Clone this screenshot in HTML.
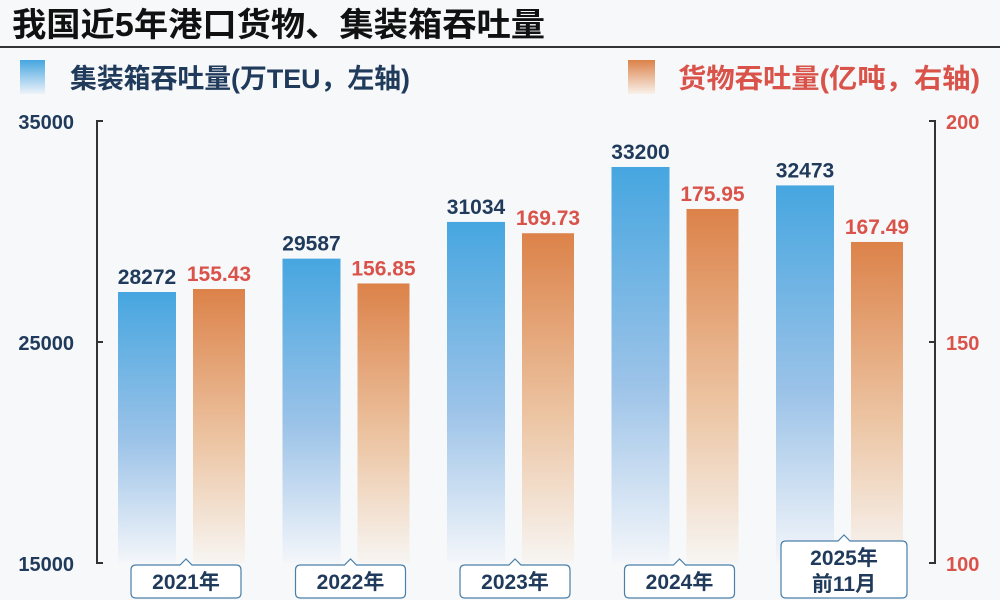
<!DOCTYPE html>
<html><head><meta charset="utf-8"><style>
body{margin:0;background:#f7f8fa;}
svg{display:block;font-family:"Liberation Sans","Noto Sans CJK SC",sans-serif;}
</style></head><body>
<svg id="chart" width="1000" height="600" viewBox="0 0 1000 600" xmlns="http://www.w3.org/2000/svg">
<defs>
<linearGradient id="gb" x1="0" y1="0" x2="0" y2="1"><stop offset="0" stop-color="#46a6e0"/><stop offset="0.55" stop-color="#9cc3e8"/><stop offset="1" stop-color="#f4f6fa"/></linearGradient>
<linearGradient id="go" x1="0" y1="0" x2="0" y2="1"><stop offset="0" stop-color="#dc8249"/><stop offset="0.55" stop-color="#ecc4a2"/><stop offset="1" stop-color="#f7f5f2"/></linearGradient>
<linearGradient id="lb" x1="0" y1="0" x2="0" y2="1"><stop offset="0" stop-color="#46a6e0"/><stop offset="1" stop-color="#eef3fa"/></linearGradient>
<linearGradient id="lo" x1="0" y1="0" x2="0" y2="1"><stop offset="0" stop-color="#dc8249"/><stop offset="1" stop-color="#f8f1ea"/></linearGradient>
</defs>
<text x="12" y="36" font-size="33" font-weight="bold" fill="#111" textLength="533" lengthAdjust="spacingAndGlyphs">我国近5年港口货物、集装箱吞吐量</text>
<line x1="0" y1="47" x2="1000" y2="47" stroke="#333" stroke-width="2"/>
<rect x="20" y="60" width="25" height="34" fill="url(#lb)"/>
<text x="70" y="88" font-size="27" font-weight="bold" fill="#1f3a5a" textLength="340" lengthAdjust="spacingAndGlyphs">集装箱吞吐量(万TEU，左轴)</text>
<rect x="628" y="60" width="27" height="34" fill="url(#lo)"/>
<text x="678" y="88" font-size="27" font-weight="bold" fill="#d9534a" textLength="302" lengthAdjust="spacingAndGlyphs">货物吞吐量(亿吨，右轴)</text>
<g id="axes"></g>
<g id="bars"></g>
</svg>
<script>
const categories=["2021年","2022年","2023年","2024年","2025年\n前11月"];
const containerValues=[28272,29587,31034,33200,32473];
const cargoValues=[155.43,156.85,169.73,175.95,167.49];
const leftTicks=[15000,25000,35000];
const rightTicks=[100,150,200];
const NS="http://www.w3.org/2000/svg";
function mk(t,a,p){const e=document.createElementNS(NS,t);for(const k in a)e.setAttribute(k,a[k]);p.appendChild(e);return e;}
const axTop=121,axBot=563;
function yLeftAxis(v){return axBot-(v-15000)/20000*(axBot-axTop);}
function yRightAxis(v){return axBot-(v-100)/100*(axBot-axTop);}
function yLeftBar(v){return 292-(v-28272)*0.02537;}
function yRightBar(v){return 289-(v-155.43)*3.9;}
const axes=document.getElementById('axes'),bars=document.getElementById('bars');
let l=mk('path',{d:`M103 ${axTop}H97V${axBot}H103`,fill:'none',stroke:'#333','stroke-width':2},axes);


let r=mk('path',{d:`M929 ${axTop}H935V${axBot}H929`,fill:'none',stroke:'#333','stroke-width':2},axes);


leftTicks.forEach(v=>{const t=mk('text',{x:74,y:yLeftAxis(v)+8,'font-size':20,'font-weight':'bold',fill:'#1f3a5a','text-anchor':'end'},axes);t.textContent=v;


const k=mk('line',{x1:97,x2:103,y1:yLeftAxis(v),y2:yLeftAxis(v),stroke:'#333','stroke-width':2},axes);

});
rightTicks.forEach(v=>{const t=mk('text',{x:946,y:yRightAxis(v)+8,'font-size':20,'font-weight':'bold',fill:'#d9534a'},axes);t.textContent=v;


const k=mk('line',{x1:929,x2:935,y1:yRightAxis(v),y2:yRightAxis(v),stroke:'#333','stroke-width':2},axes);

});
const groupX0=118,groupStep=164.5,bw=58,ow=52,gap=75;
categories.forEach((c,i)=>{
 const x=groupX0+i*groupStep;
 const yb=yLeftBar(containerValues[i]);
 const b=mk('rect',{x:x,y:yb,width:bw,height:axBot-yb,fill:'url(#gb)'},bars);
 
 
 const bt=mk('text',{x:x+bw/2,y:yb-8,'font-size':21,'font-weight':'bold',fill:'#1f3a5a','text-anchor':'middle'},bars);bt.textContent=containerValues[i];
 
 
 const xo=x+gap,yo=yRightBar(cargoValues[i]);
 const o=mk('rect',{x:xo,y:yo,width:ow,height:axBot-yo,fill:'url(#go)'},bars);
 
 
 const ot=mk('text',{x:xo+ow/2,y:yo-8,'font-size':21,'font-weight':'bold',fill:'#d9534a','text-anchor':'middle'},bars);ot.textContent=cargoValues[i].toFixed(2);
 
 
 const lines=c.split('\n');
 const bwid=lines.length>1?126:110,bh=lines.length>1?57:33,by=598-bh;
 const bxx=lines.length>1?x+5:x+13;
 const cxx=bxx+bwid/2;
 const box=mk('path',{d:`M${bxx+5} ${by}H${cxx-6}L${cxx} ${by-6}L${cxx+6} ${by}H${bxx+bwid-5}Q${bxx+bwid} ${by} ${bxx+bwid} ${by+5}V${by+bh-5}Q${bxx+bwid} ${by+bh} ${bxx+bwid-5} ${by+bh}H${bxx+5}Q${bxx} ${by+bh} ${bxx} ${by+bh-5}V${by+5}Q${bxx} ${by} ${bxx+5} ${by}Z`,fill:'#fff',stroke:'#4a7fa8','stroke-width':1.2},bars);
 
 
 lines.forEach((ln,j)=>{const t=mk('text',{x:cxx,y:by+24+j*26,'font-size':21,'font-weight':'bold',fill:'#1f3a5a','text-anchor':'middle'},bars);t.textContent=ln;
 
 });
});
</script>
</body></html>
